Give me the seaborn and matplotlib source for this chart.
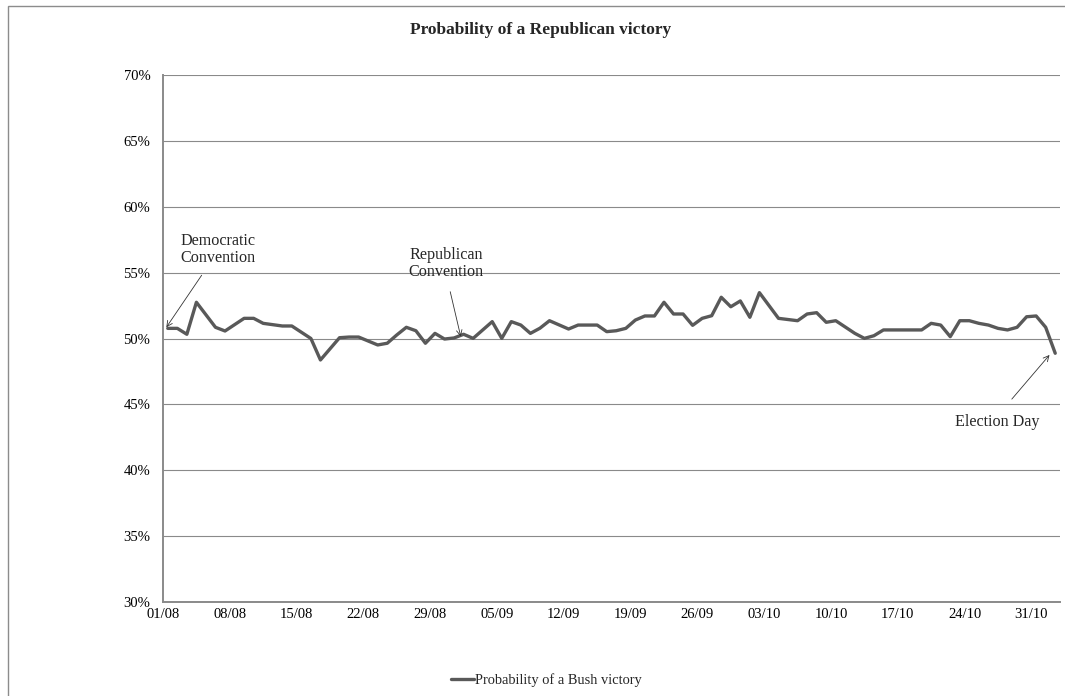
import matplotlib
matplotlib.use("Agg")
import matplotlib.pyplot as plt
from matplotlib.patches import Rectangle
import seaborn as sns
import pandas as pd

# Daily probability of a Bush victory (in %), 2004 campaign
dates = [
    "2004-08-01", "2004-08-02", "2004-08-03", "2004-08-04", "2004-08-06", "2004-08-07",
    "2004-08-09", "2004-08-10", "2004-08-11", "2004-08-13", "2004-08-14", "2004-08-16",
    "2004-08-17", "2004-08-19", "2004-08-20", "2004-08-21", "2004-08-23", "2004-08-24",
    "2004-08-25", "2004-08-26", "2004-08-27", "2004-08-28", "2004-08-29", "2004-08-30",
    "2004-08-31", "2004-09-01", "2004-09-02", "2004-09-04", "2004-09-05", "2004-09-06",
    "2004-09-07", "2004-09-08", "2004-09-09", "2004-09-10", "2004-09-12", "2004-09-13",
    "2004-09-15", "2004-09-16", "2004-09-17", "2004-09-18", "2004-09-19", "2004-09-20",
    "2004-09-21", "2004-09-22", "2004-09-23", "2004-09-24", "2004-09-25", "2004-09-26",
    "2004-09-27", "2004-09-28", "2004-09-29", "2004-09-30", "2004-10-01", "2004-10-02",
    "2004-10-04", "2004-10-06", "2004-10-07", "2004-10-08", "2004-10-09", "2004-10-10",
    "2004-10-12", "2004-10-13", "2004-10-14", "2004-10-15", "2004-10-19", "2004-10-20",
    "2004-10-21", "2004-10-22", "2004-10-23", "2004-10-24", "2004-10-25", "2004-10-26",
    "2004-10-27", "2004-10-28", "2004-10-29", "2004-10-30", "2004-10-31", "2004-11-01",
    "2004-11-02",
]
bush_prob = [
    50.77, 50.77, 50.32, 52.75, 50.85, 50.57,
    51.53, 51.53, 51.15, 50.95, 50.95, 50.00,
    48.37, 50.06, 50.11, 50.11, 49.51, 49.64,
    50.27, 50.85, 50.59, 49.64, 50.39, 49.96,
    50.04, 50.32, 50.01, 51.28, 50.01, 51.28,
    51.02, 50.39, 50.78, 51.35, 50.72, 51.02,
    51.02, 50.52, 50.59, 50.77, 51.40, 51.71,
    51.71, 52.75, 51.86, 51.86, 51.00, 51.53,
    51.73, 53.13, 52.41, 52.85, 51.61, 53.48,
    51.53, 51.35, 51.86, 51.96, 51.23, 51.35,
    50.39, 50.01, 50.21, 50.65, 50.65, 51.15,
    51.02, 50.14, 51.35, 51.35, 51.15, 51.02,
    50.77, 50.65, 50.85, 51.65, 51.71, 50.85,
    48.88,
]
y_ticks = [30, 35, 40, 45, 50, 55, 60, 65, 70]
series_label = "Probability of a Bush victory"
title = "Probability of a Republican victory"

start = pd.Timestamp("2004-08-01")
df = pd.DataFrame({"date": pd.to_datetime(dates), "prob": bush_prob})
# each day occupies one unit; the point sits in the middle of its day
df["pos"] = (df["date"] - start).dt.days + 0.5

sns.set_style("white")
plt.rcParams["font.family"] = ["Liberation Serif", "DejaVu Serif"]

fig = plt.figure(figsize=(10.65, 6.96), dpi=100)
ax = fig.add_axes([163 / 1065, 1 - 602 / 696, (1060 - 163) / 1065, (602 - 75) / 696])

sns.lineplot(data=df, x="pos", y="prob", ax=ax, color="#595959", linewidth=2.4,
             label=series_label, legend=False)

grid_c = "#8a8a8a"
ax.set_xlim(0, 94)
ax.set_ylim(30, 70)
ax.set_yticks(y_ticks)
ax.set_yticklabels([f"{v}%" for v in y_ticks])
xt = list(range(0, 92, 7))
ax.set_xticks(xt)
ax.set_xticklabels([(start + pd.Timedelta(days=d)).strftime("%d/%m") for d in xt])
ax.grid(axis="y", color=grid_c, linewidth=0.8)
ax.grid(axis="x", visible=False)
ax.set_axisbelow(True)
for side in ("top", "right"):
    ax.spines[side].set_visible(False)
for side in ("left", "bottom"):
    ax.spines[side].set_color(grid_c)
    ax.spines[side].set_linewidth(1.4)
ax.tick_params(axis="both", which="major", direction="out", width=0.8,
               color=grid_c, labelsize=10.5, labelcolor="black")
ax.tick_params(axis="y", length=3.6, pad=5.5)
ax.tick_params(axis="x", length=2.5, pad=2)
ax.set_xlabel("")
ax.set_ylabel("")

fig.text(541 / 1065, 1 - 30 / 696, title, ha="center", va="center",
         fontsize=12.5, fontweight="bold")

arrow = dict(arrowstyle="->", color="#333333", lw=0.6, shrinkA=0, shrinkB=0,
             mutation_scale=10)
ax.annotate("", xy=(0.35, 50.85), xytext=(4.05, 54.8), arrowprops=arrow)
ax.text(1.8, 55.5, "Democratic\nConvention", ha="left", va="bottom", fontsize=11.6,
        linespacing=1.05)
ax.annotate("", xy=(31.2, 50.15), xytext=(30.1, 53.55), arrowprops=arrow)
ax.text(29.7, 55.7, "Republican\nConvention", ha="center", va="center", fontsize=11.6,
        linespacing=1.05)
ax.annotate("", xy=(92.9, 48.75), xytext=(88.95, 45.4), arrowprops=arrow)
ax.text(87.4, 43.67, "Election Day", ha="center", va="center", fontsize=11.6)

handles, labels = ax.get_legend_handles_labels()
fig.legend(handles, labels, loc="center", bbox_to_anchor=(546.5 / 1065, 1 - 680 / 696),
           frameon=False, fontsize=10.4, handlelength=1.6, handletextpad=0.1)

fig.add_artist(Rectangle((8 / 1065, -0.1), 1.2, 0.1 + (696 - 6) / 696,
                         transform=fig.transFigure, fill=False,
                         edgecolor="#8c8c8c", linewidth=1.0))

fig.savefig("out.png", dpi=100)
